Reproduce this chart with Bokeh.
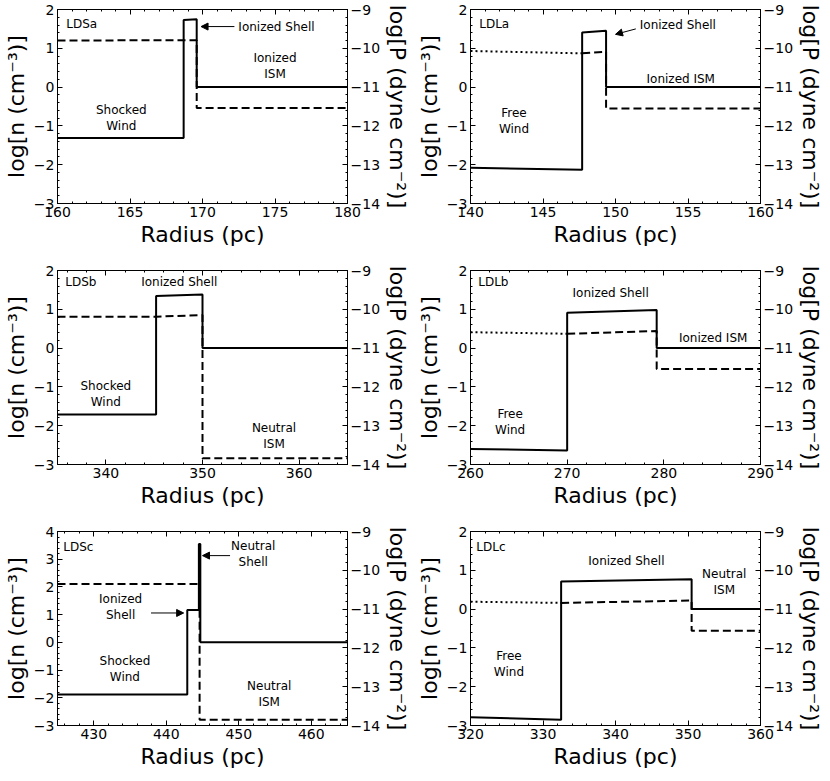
from bokeh.plotting import figure
from bokeh.models import (Range1d, LinearAxis, SingleIntervalTicker, Arrow,
                          NormalHead, CustomJSTickFormatter)
from bokeh.layouts import gridplot
from bokeh.core.properties import value
from bokeh.embed import file_html
from bokeh.resources import INLINE

FONT = "DejaVu Sans"

# ---------------- data ----------------
# LDSa
ldsa_r_n = [160, 168.7, 168.7, 169.6, 169.6, 180]
ldsa_n = [-1.31, -1.31, 1.73, 1.75, 0.0, 0.0]
ldsa_r_p = [160, 169.6, 169.6, 180]
ldsa_p = [-9.8, -9.79, -11.54, -11.54]
ldsa_r_pfree = []
ldsa_pfree = []

# LDLa
ldla_r_n = [140, 147.7, 147.7, 149.35, 149.35, 160]
ldla_n = [-2.08, -2.13, 1.41, 1.45, 0.0, 0.0]
ldla_r_p = [147.7, 149.35, 149.35, 160]
ldla_p = [-10.13, -10.09, -11.55, -11.55]
ldla_r_pfree = [140, 147.7]
ldla_pfree = [-10.07, -10.13]

# LDSb
ldsb_r_n = [335, 345.2, 345.2, 350.0, 350.0, 365]
ldsb_n = [-1.71, -1.71, 1.34, 1.38, 0.0, 0.0]
ldsb_r_p = [335, 345.2, 350.0, 350.0, 365]
ldsb_p = [-10.19, -10.19, -10.15, -13.84, -13.84]
ldsb_r_pfree = []
ldsb_pfree = []

# LDLb
ldlb_r_n = [260, 270.0, 270.0, 279.26, 279.26, 290]
ldlb_n = [-2.6, -2.64, 0.91, 0.98, 0.0, 0.0]
ldlb_r_p = [270.0, 279.26, 279.26, 290]
ldlb_p = [-10.63, -10.56, -11.54, -11.54]
ldlb_r_pfree = [260, 270.0]
ldlb_pfree = [-10.59, -10.63]

# LDSc
ldsc_r_n = [425, 442.9, 442.9, 444.5, 444.5, 444.7, 444.7, 465]
ldsc_n = [-1.88, -1.88, 1.17, 1.17, 3.55, 3.55, 0.0, 0.0]
ldsc_r_p = [425, 444.6, 444.6, 465]
ldsc_p = [-10.35, -10.35, -13.85, -13.85]
ldsc_r_pfree = []
ldsc_pfree = []

# LDLc
ldlc_r_n = [320, 332.5, 332.5, 350.5, 350.5, 360]
ldlc_n = [-2.79, -2.85, 0.71, 0.77, 0.0, 0.0]
ldlc_r_p = [332.5, 350.5, 350.5, 360]
ldlc_p = [-10.84, -10.78, -11.56, -11.56]
ldlc_r_pfree = [320, 332.5]
ldlc_pfree = [-10.81, -10.84]

panel_names = ["LDSa", "LDLa", "LDSb", "LDLb", "LDSc", "LDLc"]
x_ranges = [(160, 180), (140, 160), (335, 365), (260, 290), (425, 465), (320, 360)]
x_tick_steps = [5, 5, 10, 10, 10, 10]
n_ranges = [(-3, 2), (-3, 2), (-3, 2), (-3, 2), (-3, 4), (-3, 2)]
p_range = (-14, -9)

# region labels: (x, y, text)
labels = {
    "LDSa": [(175.1, 1.56, "Ionized Shell"), (175.0, 0.55, "Ionized\nISM"),
             (164.4, -0.8, "Shocked\nWind")],
    "LDLa": [(154.3, 1.6, "Ionized Shell"), (154.5, 0.2, "Ionized ISM"),
             (143.0, -0.87, "Free\nWind")],
    "LDSb": [(347.6, 1.71, "Ionized Shell"), (340.0, -1.18, "Shocked\nWind"),
             (357.4, -2.27, "Neutral\nISM")],
    "LDLb": [(274.5, 1.43, "Ionized Shell"), (285.1, 0.26, "Ionized ISM"),
             (264.1, -1.91, "Free\nWind")],
    "LDSc": [(452.0, 3.19, "Neutral\nShell"), (433.7, 1.26, "Ionized\nShell"),
             (434.3, -0.97, "Shocked\nWind"), (454.2, -1.87, "Neutral\nISM")],
    "LDLc": [(341.5, 1.23, "Ionized Shell"), (355.0, 0.69, "Neutral\nISM"),
             (325.3, -1.41, "Free\nWind")],
}
# arrows: (x_start, y_start, x_end, y_end)
arrows = {
    "LDSa": [(172.2, 1.56, 169.9, 1.56)],
    "LDLa": [(151.4, 1.5, 150.0, 1.36)],
    "LDSc": [(448.8, 3.13, 445.0, 3.13), (437.9, 1.06, 442.4, 1.06)],
}
tag_pos = {"LDSa": (160.6, 1.62), "LDLa": (140.6, 1.62), "LDSb": (335.8, 1.71),
           "LDLb": (260.8, 1.71), "LDSc": (425.8, 3.43), "LDLc": (320.8, 1.6)}

series = {
    "LDSa": (ldsa_r_n, ldsa_n, ldsa_r_p, ldsa_p, ldsa_r_pfree, ldsa_pfree),
    "LDLa": (ldla_r_n, ldla_n, ldla_r_p, ldla_p, ldla_r_pfree, ldla_pfree),
    "LDSb": (ldsb_r_n, ldsb_n, ldsb_r_p, ldsb_p, ldsb_r_pfree, ldsb_pfree),
    "LDLb": (ldlb_r_n, ldlb_n, ldlb_r_p, ldlb_p, ldlb_r_pfree, ldlb_pfree),
    "LDSc": (ldsc_r_n, ldsc_n, ldsc_r_p, ldsc_p, ldsc_r_pfree, ldsc_pfree),
    "LDLc": (ldlc_r_n, ldlc_n, ldlc_r_p, ldlc_p, ldlc_r_pfree, ldlc_pfree),
}

minus_over = {float(v): "\u2212%d" % (-v) for v in range(-20, 0)}


def style_axis(ax, step, minor):
    ax.ticker = SingleIntervalTicker(interval=step, num_minor_ticks=minor)
    ax.major_tick_in = 5
    ax.major_tick_out = 0
    ax.minor_tick_in = 2
    ax.minor_tick_out = 0
    ax.axis_line_color = "black"
    ax.major_tick_line_color = "black"
    ax.minor_tick_line_color = "black"
    ax.axis_line_width = 1
    ax.major_label_text_font = FONT
    ax.major_label_text_color = "black"
    ax.major_label_text_font_size = "14px"
    ax.major_label_overrides = minus_over
    ax.axis_label_text_font = FONT
    ax.axis_label_text_font_style = "normal"
    ax.axis_label_text_color = "black"
    ax.axis_label_text_font_size = "22px"
    ax.major_label_standoff = 3
    ax.axis_label_standoff = 2


figs = []
for i, name in enumerate(panel_names):
    col = i % 2
    row = i // 2
    r_n, n, r_p, pv, r_pf, pf = series[name]
    x0, x1 = x_ranges[i]
    y0, y1 = n_ranges[i]
    p = figure(frame_width=290, frame_height=194,
               x_range=Range1d(x0, x1), y_range=Range1d(y0, y1),
               output_backend="svg", toolbar_location=None,
               min_border_left=0 if col == 0 else 10, min_border_right=0,
               min_border_top=9, min_border_bottom=58 if row < 2 else 50)
    p.extra_y_ranges = {"p": Range1d(*p_range)}
    p.xgrid.visible = False
    p.ygrid.visible = False
    p.outline_line_color = "black"
    p.background_fill_color = "white"
    p.border_fill_color = "white"

    p.xaxis.axis_label = "Radius (pc)"
    p.yaxis.axis_label = "log[n (cm\u207b\u00b3)]"
    style_axis(p.xaxis[0], x_tick_steps[i], 5)
    style_axis(p.yaxis[0], 1, 5)

    rax = LinearAxis(y_range_name="p", axis_label="log[P (dyne cm\u207b\u00b2)]")
    style_axis(rax, 1, 5)
    p.add_layout(rax, "right")

    # top axis: ticks only, no labels
    tax = LinearAxis(formatter=CustomJSTickFormatter(code="return '';"))
    style_axis(tax, x_tick_steps[i], 5)
    tax.major_label_overrides = {}
    tax.major_label_text_color = None
    tax.major_label_text_font_size = "1px"
    tax.major_label_standoff = 0
    p.add_layout(tax, "above")

    p.line(r_n, n, line_color="black", line_width=2)
    p.line(r_p, pv, line_color="black", line_width=2, line_dash="8 4",
           y_range_name="p")
    if r_pf:
        p.line(r_pf, pf, line_color="black", line_width=2, line_dash="2 3",
               y_range_name="p")

    lx = [t[0] for t in labels[name]]
    ly = [t[1] for t in labels[name]]
    lt = [t[2] for t in labels[name]]
    p.text(x=lx, y=ly, text=lt, text_align="center", text_baseline="middle",
           text_font=value(FONT), text_font_size="12px", text_color="black",
           text_line_height=1.15)
    tx, ty = tag_pos[name]
    p.text(x=[tx], y=[ty], text=[name], text_align="left", text_baseline="middle",
           text_font=value(FONT), text_font_size="12px", text_color="black")
    for (xs, ys, xe, ye) in arrows.get(name, []):
        p.add_layout(Arrow(x_start=xs, y_start=ys, x_end=xe, y_end=ye,
                           line_color="black", line_width=1,
                           end=NormalHead(size=7, fill_color="black",
                                          line_color="black")))
    figs.append(p)

grid = gridplot([[figs[0], figs[1]], [figs[2], figs[3]], [figs[4], figs[5]]],
                toolbar_location=None)

open("out.html", "w").write(file_html(grid, INLINE))
